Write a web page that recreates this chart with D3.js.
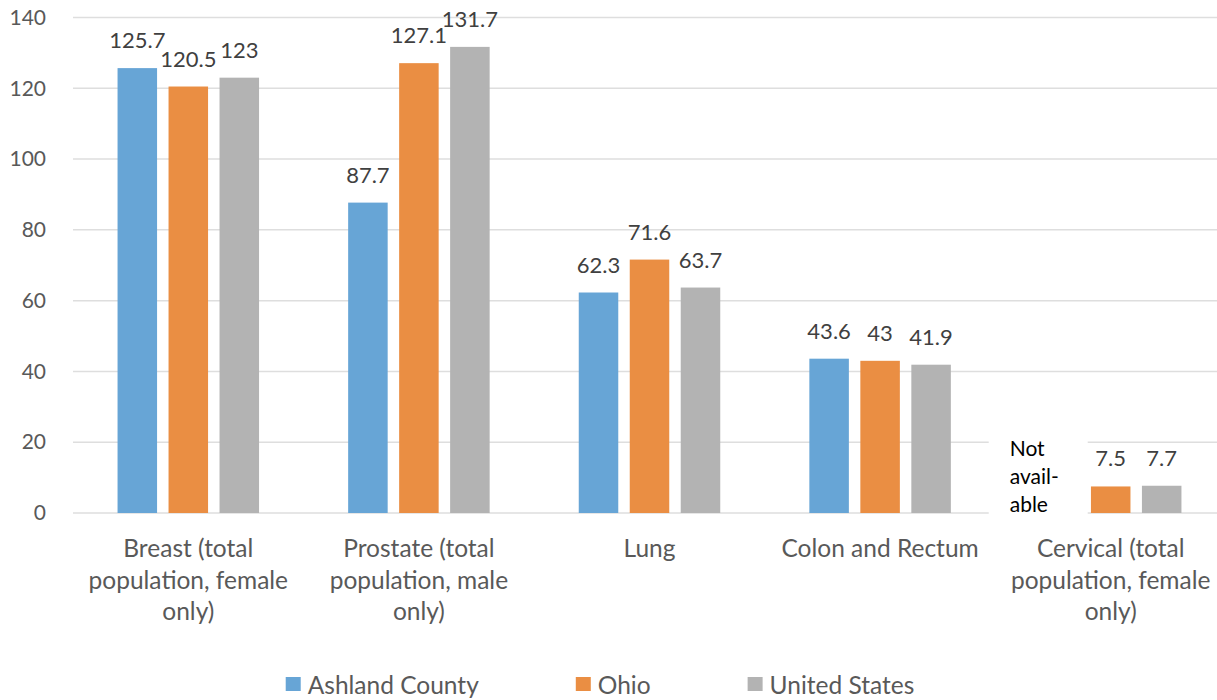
<!DOCTYPE html>
<html>
<head>
<meta charset="utf-8">
<script src="https://cdn.jsdelivr.net/npm/d3@7"></script>
<style>
  html, body { margin: 0; padding: 0; background: #fff; }
  svg { display: block; }
  text { font-family: Lato, "Open Sans", sans-serif; }
</style>
</head>
<body>
<svg id="chart" width="1217" height="700"></svg>
<script>
// ---- data ----
const categories = [
  "Breast (total population, female only)",
  "Prostate (total population, male only)",
  "Lung",
  "Colon and Rectum",
  "Cervical (total population, female only)"
];
const seriesNames = ["Ashland County", "Ohio", "United States"];
const ashland = [125.7, 87.7, 62.3, 43.6, null];
const ohio = [120.5, 127.1, 71.6, 43, 7.5];
const unitedStates = [123, 131.7, 63.7, 41.9, 7.7];
const yTicks = [0, 20, 40, 60, 80, 100, 120, 140];
const missingLabel = ["Not", "avail-", "able"];

// ---- layout / style ----
const colors = ["#67A5D6", "#EA8E43", "#B3B3B3"];
const svg = d3.select("#chart");
const plotLeft = 73, plotRight = 1226;
const y = d3.scaleLinear().domain([0, 140]).range([513, 17.5]);
const x0 = d3.scaleBand().domain(categories).range([plotLeft, plotRight]).paddingInner(0).paddingOuter(0);
const groupW = 141.5;
const x1 = d3.scaleBand().domain(seriesNames)
  .range([(x0.bandwidth() - groupW) / 2, (x0.bandwidth() + groupW) / 2])
  .paddingInner(0.225).paddingOuter(0);

const seriesValues = [ashland, ohio, unitedStates];
const catSize = 24.5;

// gridlines
const grid = svg.append("g");
grid.selectAll("line").data(yTicks).join("line")
  .attr("x1", plotLeft).attr("x2", plotRight)
  .attr("y1", d => y(d)).attr("y2", d => y(d))
  .attr("stroke", "#DEDEDE").attr("stroke-width", 1.5);

// y axis labels via d3 axis
const yAxis = svg.append("g").attr("transform", "translate(46,0)")
  .call(d3.axisLeft(y).tickValues(yTicks).tickSize(0).tickPadding(0));
yAxis.select(".domain").remove();
yAxis.selectAll("text").attr("fill", "#595959").style("font-size", "21px")
  .style("font-family", "Lato, 'Open Sans', sans-serif");

// bars
const groups = svg.append("g").selectAll("g").data(categories).join("g")
  .attr("transform", c => `translate(${x0(c)},0)`);

groups.each(function(c, ci) {
  const g = d3.select(this);
  const vals = seriesNames.map((s, si) => ({ s, si, v: seriesValues[si][ci] }));
  g.selectAll("rect").data(vals.filter(d => d.v != null)).join("rect")
    .attr("x", d => x1(d.s)).attr("width", x1.bandwidth())
    .attr("y", d => y(d.v)).attr("height", d => y(0) - y(d.v))
    .attr("fill", d => colors[d.si]);
  g.selectAll("text.val").data(vals.filter(d => d.v != null)).join("text")
    .attr("class", "val")
    .attr("x", d => x1(d.s) + x1.bandwidth() / 2)
    .attr("y", d => y(d.v) - 20)
    .attr("text-anchor", "middle")
    .attr("fill", "#404040").style("font-size", "22px")
    .text(d => d3.format("")(d.v));
  // missing label
  vals.filter(d => d.v == null).forEach(d => {
    const cx = x1(d.s) + x1.bandwidth() / 2;
    g.append("rect")
      .attr("x", cx - 71).attr("y", y(0) - 80)
      .attr("width", 99).attr("height", 86).attr("fill", "#fff");
    g.append("text")
      .attr("x", cx - 50).attr("y", y(0) - 57)
      .attr("fill", "#000").style("font-size", "21px")
      .selectAll("tspan").data(missingLabel).join("tspan")
      .attr("x", cx - 50).attr("dy", (t, i) => i === 0 ? 0 : 28)
      .text(t => t);
  });
});

// category labels, wrapped
const xAxis = svg.append("g");
function wrapLines(text, maxW, size) {
  const tmp = svg.append("text").style("font-size", size + "px");
  const words = text.split(" ");
  const lines = [];
  let cur = [];
  words.forEach(w => {
    const trial = cur.concat([w]).join(" ");
    tmp.text(trial);
    if (tmp.node().getComputedTextLength() > maxW && cur.length) {
      lines.push(cur.join(" "));
      cur = [w];
    } else cur.push(w);
  });
  if (cur.length) lines.push(cur.join(" "));
  tmp.remove();
  return lines;
}
categories.forEach(c => {
  const lines = wrapLines(c, 215, catSize);
  const t = xAxis.append("text")
    .attr("x", x0(c) + x0.bandwidth() / 2).attr("y", 557)
    .attr("text-anchor", "middle").attr("fill", "#595959").style("font-size", catSize + "px");
  t.selectAll("tspan").data(lines).join("tspan")
    .attr("x", x0(c) + x0.bandwidth() / 2)
    .attr("dy", (l, i) => i === 0 ? 0 : 31.5)
    .text(l => l);
});

// legend
const legend = svg.append("g");
const legendItems = legend.selectAll("g").data(seriesNames).join("g");
legendItems.append("rect").attr("width", 15).attr("height", 14)
  .attr("y", 677).attr("fill", (d, i) => colors[i]);
legendItems.append("text").attr("x", 22).attr("y", 694)
  .attr("fill", "#595959").style("font-size", catSize + "px").text(d => d);
let cursor = 0;
const itemGap = 97;
legendItems.each(function() {
  const g = d3.select(this);
  const w = 22 + g.select("text").node().getComputedTextLength();
  g.attr("transform", `translate(${cursor},0)`);
  cursor += w + itemGap;
});
const totalW = cursor - itemGap;
legend.attr("transform", `translate(${600 - totalW / 2},0)`);
</script>
</body>
</html>
